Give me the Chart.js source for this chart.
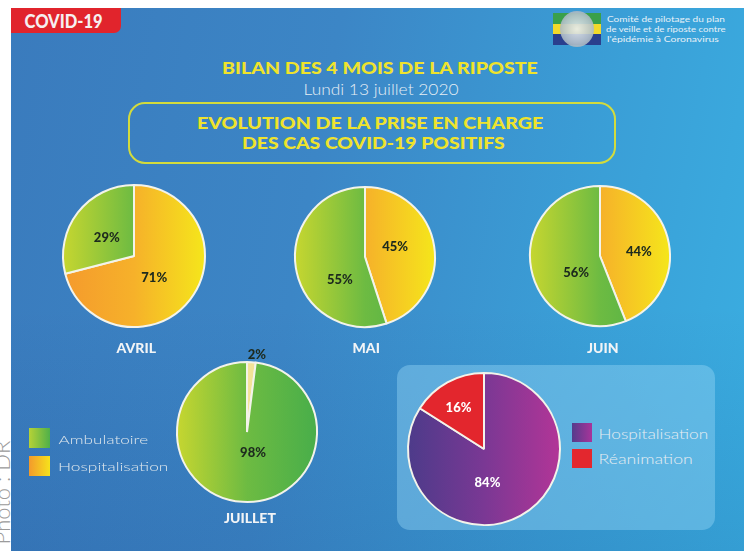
<!DOCTYPE html>
<html>
<head>
<meta charset="utf-8">
<script src="https://cdn.jsdelivr.net/npm/chart.js@4.4.1/dist/chart.umd.min.js"></script>
<style>
  html,body{margin:0;padding:0;background:#fff;}
  #page{position:relative;width:756px;height:551px;overflow:hidden;background:#fff;font-family:Lato,"Open Sans",sans-serif;}
  #bg{position:absolute;left:11px;top:8px;width:733px;height:543px;
      background:linear-gradient(100deg,#3a7bbd 0%,#3c86c6 40%,#3a9fd7 75%,#3aaee1 100%);}
  #bgshade{position:absolute;left:11px;top:8px;width:733px;height:543px;
      background:linear-gradient(180deg,rgba(0,0,0,0) 55%,rgba(10,40,110,0.12) 100%);}
  .t{position:absolute;white-space:nowrap;line-height:1;transform-origin:center center;}
  #badge{position:absolute;left:11px;top:8px;width:110px;height:25px;background:#e1242c;border-radius:0 0 7px 0;}
  #box{position:absolute;left:128px;top:102px;width:484px;height:58px;border:2px solid #d3db3c;border-radius:17px;}
  #panel{position:absolute;left:397px;top:365px;width:318px;height:165px;border-radius:13px;background:rgba(150,215,245,0.42);}
  canvas{position:absolute;}
  .sq{position:absolute;width:21px;height:20px;}
  #flag{position:absolute;left:553px;top:13px;width:48px;height:32px;}
  #flag div{height:33.33%;}
  #seal{position:absolute;left:560px;top:11px;width:34px;height:36px;border-radius:50%;background:radial-gradient(circle,#e8eef2 0%,#b9c6cf 55%,#8d9ca8 100%);opacity:0.9;}
</style>
</head>
<body>
<div id="page">
  <div id="bg"></div>
  <div id="bgshade"></div>
  <div id="badge"></div>
  <div id="flag"><div style="background:#3aa04a"></div><div style="background:#f2d92a"></div><div style="background:#2a3f8e"></div></div>
  <div id="seal"></div>
  <div id="box"></div>
  <div id="panel"></div>
  <div class="sq" style="left:29px;top:428px;background:linear-gradient(90deg,#b6d236,#4fb04a);"></div>
  <div class="sq" style="left:29px;top:456px;background:linear-gradient(90deg,#f39a2c,#f6e21c);"></div>
  <div class="sq" style="left:572px;top:423px;width:20px;height:19px;background:linear-gradient(90deg,#553c8c,#a8349a);"></div>
  <div class="sq" style="left:572px;top:449px;width:20px;height:19px;background:#e3272e;"></div>
  <canvas id="c0" width="200" height="200"></canvas>
  <canvas id="c1" width="200" height="200"></canvas>
  <canvas id="c2" width="200" height="200"></canvas>
  <canvas id="c3" width="200" height="200"></canvas>
  <canvas id="c4" width="200" height="200"></canvas>
  <div id="texts"></div>
</div>
<script>
// ---------- DATA ----------
const months = ['AVRIL', 'MAI', 'JUIN', 'JUILLET'];
const careLabels = ['Hospitalisation', 'Ambulatoire'];
const hospitalisation = [71, 45, 44, 2];
const ambulatoire = [29, 55, 56, 98];
const severeLabels = ['Hospitalisation', 'Réanimation'];
const severeValues = [84, 16];
const legendCare = ['Ambulatoire', 'Hospitalisation'];

// ---------- STYLE / LAYOUT ----------
const pieCenters = [[134, 256], [365, 257], [600, 256], [247, 432], [484, 449]];
const pieRadius = [71, 70, 70, 70, 76];
// label placement tweaks per slice: [radiusFactor, dx, dy]
const labelTweaks = [
  [[0.45, -5, 2], [0.45, -2, 1]],
  [[0.45, -1, -5], [0.45, 6, 18]],
  [[0.45, 8, 2], [0.45, 7, 11]],
  [[1.13, 5, 2], [0.45, 8, -11]],
  [[0.45, -13, 4], [0.45, -9, -11]]
];
const GREEN = ['#c6d630', '#6dbb42', '#48ae4a'];
const ORANGE = ['#f59a2d', '#f6b12a', '#f5e61b'];
const PALE = ['#f6efb8', '#f3e39a', '#f0d77a'];
const PURPLE = ['#4d3b8a', '#7a3894', '#b23597'];
const RED = ['#e3262d', '#e3262d', '#e3262d'];

function grad(chart, stops, r) {
  const a = chart.chartArea;
  if (!a) return stops[0];
  const cx = (a.left + a.right) / 2;
  const g = chart.ctx.createLinearGradient(cx - r, 0, cx + r, 0);
  g.addColorStop(0, stops[0]); g.addColorStop(0.5, stops[1]); g.addColorStop(1, stops[2]);
  return g;
}

const labelPlugin = {
  id: 'sliceLabels',
  afterDatasetsDraw(chart, args, opts) {
    const ctx = chart.ctx;
    const meta = chart.getDatasetMeta(0);
    const vals = chart.data.datasets[0].data;
    ctx.save();
    ctx.font = opts.font;
    ctx.fillStyle = opts.color;
    ctx.textAlign = 'center';
    ctx.textBaseline = 'middle';
    meta.data.forEach((arc, i) => {
      const p = arc.getProps(['x', 'y', 'startAngle', 'endAngle', 'outerRadius'], true);
      const tw = opts.tweaks[i];
      const mid = (p.startAngle + p.endAngle) / 2;
      const r = p.outerRadius * tw[0];
      ctx.fillText(vals[i] + '%', p.x + Math.cos(mid) * r + tw[1], p.y + Math.sin(mid) * r + tw[2]);
    });
    ctx.restore();
  }
};

function makePie(idx, labels, values, colorSets, labelColor) {
  const cv = document.getElementById('c' + idx);
  const [cx, cy] = pieCenters[idx];
  cv.style.left = (cx - 100) + 'px';
  cv.style.top = (cy - 100) + 'px';
  const r = pieRadius[idx];
  new Chart(cv, {
    type: 'pie',
    data: {
      labels: labels,
      datasets: [{
        data: values,
        backgroundColor: (c) => grad(c.chart, colorSets[c.dataIndex], r),
        borderColor: '#f3f3ea',
        borderWidth: 2
      }]
    },
    options: {
      responsive: false,
      animation: false,
      radius: r,
      layout: { padding: 0 },
      plugins: {
        legend: { display: false },
        tooltip: { enabled: false },
        sliceLabels: { font: '900 13px Lato, "Open Sans", sans-serif', color: labelColor, tweaks: labelTweaks[idx] }
      }
    },
    plugins: [labelPlugin]
  });
}

for (let m = 0; m < 4; m++) {
  const hospColor = m === 3 ? PALE : ORANGE;
  makePie(m, careLabels, [hospitalisation[m], ambulatoire[m]], [hospColor, GREEN], '#1d2a1e');
}
makePie(4, severeLabels, severeValues, [PURPLE, RED], '#ffffff');

// ---------- TEXTS ----------
const monthPos = [[136, 347], [366, 347], [603, 347], [250, 517]];
const texts = [
  { s: 'COVID-19', x: 63, y: 21, w: 78, font: '900 18px Lato, sans-serif', c: '#f6f0f0' },
  { s: 'BILAN DES 4 MOIS DE LA RIPOSTE', x: 380, y: 67, w: 316, font: '900 16px Lato, sans-serif', c: '#efe32c' },
  { s: 'Lundi 13 juillet 2020', x: 381, y: 89, w: 155, font: '300 15px Lato, sans-serif', c: '#e6eef4' },
  { s: 'EVOLUTION DE LA PRISE EN CHARGE', x: 370, y: 122, w: 346, font: '900 16px Lato, sans-serif', c: '#efe32c' },
  { s: 'DES CAS COVID-19 POSITIFS', x: 373, y: 142, w: 263, font: '900 16px Lato, sans-serif', c: '#efe32c' },
  { s: legendCare[0], x: 103, y: 439, w: 90, font: '300 12px Lato, sans-serif', c: '#dde6ec' },
  { s: legendCare[1], x: 113, y: 466, w: 110, font: '300 12px Lato, sans-serif', c: '#dde6ec' },
  { s: severeLabels[0], x: 653, y: 434, w: 110, font: '300 13px Lato, sans-serif', c: '#e6edf2' },
  { s: severeLabels[1], x: 645, y: 459, w: 94, font: '300 13px Lato, sans-serif', c: '#e6edf2' },
  { s: 'Comité de pilotage du plan', x: 666, y: 19, w: 118, font: '400 8px Lato, sans-serif', c: '#e8f1f8' },
  { s: 'de veille et de riposte contre', x: 666, y: 29, w: 120, font: '400 8px Lato, sans-serif', c: '#e8f1f8' },
  { s: "l'épidémie à Coronavirus", x: 663, y: 39, w: 112, font: '400 8px Lato, sans-serif', c: '#e8f1f8' }
];
months.forEach((m, i) => texts.push({ s: m, x: monthPos[i][0], y: monthPos[i][1], w: null, font: '900 14px Lato, sans-serif', c: '#f2f4f6' }));

const host = document.getElementById('texts');
texts.forEach(t => {
  const d = document.createElement('div');
  d.className = 't';
  d.textContent = t.s;
  d.style.font = t.font;
  d.style.color = t.c;
  host.appendChild(d);
  const w = d.offsetWidth, h = d.offsetHeight;
  d.style.left = (t.x - w / 2) + 'px';
  d.style.top = (t.y - h / 2) + 'px';
  if (t.w) d.style.transform = 'scaleX(' + (t.w / w) + ')';
});

// photo credit, rotated
const pc = document.createElement('div');
pc.className = 't';
pc.textContent = 'Photo : DR';
pc.style.font = '300 22px Lato, sans-serif';
pc.style.color = '#9b9b9b';
host.appendChild(pc);
const pw = pc.offsetWidth, ph = pc.offsetHeight;
pc.style.left = (2 - pw / 2) + 'px';
pc.style.top = (492 - ph / 2) + 'px';
pc.style.transform = 'rotate(-90deg)';
</script>
</body>
</html>
